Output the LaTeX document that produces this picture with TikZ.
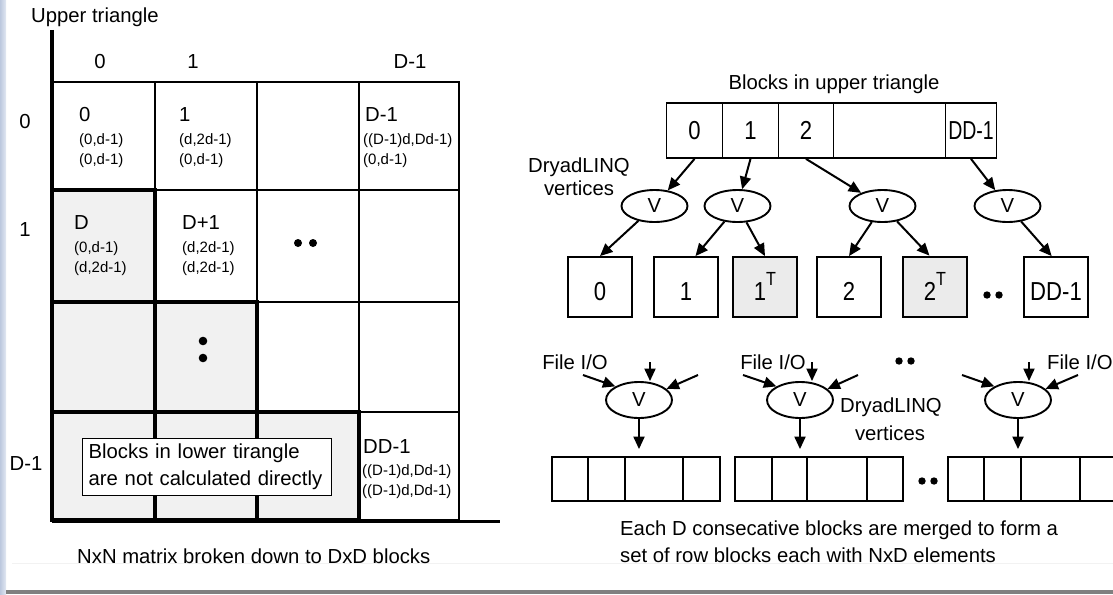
\documentclass[tikz,border=0pt]{standalone}
\usepackage{fontspec}
\setmainfont{Liberation Sans}
\usetikzlibrary{arrows.meta,shapes.geometric}
\definecolor{lowfill}{HTML}{F1F1F1}
\definecolor{tfill}{HTML}{EBEBEB}
\definecolor{stripL}{HTML}{BCC8DE}
\definecolor{stripR}{HTML}{E2E8F3}
\definecolor{bargray}{HTML}{808080}
\definecolor{faint}{HTML}{F2F2F2}
\newcommand{\sqz}[2]{\scalebox{#1}[1]{#2}}
\begin{document}
\begin{tikzpicture}[x=1pt,y=-1pt,
  big/.style={font=\fontsize{20.3}{27}\selectfont, inner sep=0pt},
  small/.style={font=\fontsize{15}{20}\selectfont, inner sep=0pt},
  lab/.style={font=\fontsize{26}{30}\selectfont, inner sep=0pt},
  upline/.style={line width=1.9pt},
  lowline/.style={line width=3.8pt},
  arr/.style={line width=2pt, -{Triangle[length=12.5pt,width=11pt]}},
  acell/.style={lab, draw, line width=1.8pt, minimum height=55pt},
  bbox/.style={lab, draw, line width=1.8pt, minimum width=64pt, minimum height=60pt, text height=26pt, text depth=0pt},
  vnode/.style={big, ellipse, draw, line width=1.9pt, minimum width=66pt, minimum height=32pt},
  rblock/.style={draw, line width=1.8pt, minimum width=168pt, minimum height=44pt, inner sep=0pt},
  divline/.style={line width=1.8pt}
]
\useasboundingbox (0,0) rectangle (1113,594);
\fill[white] (0,0) rectangle (1113,594);
% window edges
\shade[left color=stripL, right color=stripR] (0,0) rectangle (6,594);
\draw[faint, line width=1pt] (12,563) -- (1113,563);
\fill[bargray] (6,590) rectangle (1113,594);

% ---------------- left matrix ----------------
\fill[lowfill] (52,190) rectangle (155,302);
\fill[lowfill] (52,302) rectangle (257,412);
\fill[lowfill] (52,412) rectangle (359,520);
\draw[upline] (52,82) rectangle (459,190);
\draw[upline] (155,82) -- (155,190) (257,82) -- (257,412) (359,82) -- (359,520);
\draw[upline] (155,190) rectangle (459,302);
\draw[upline] (257,302) rectangle (459,412);
\draw[upline] (359,412) rectangle (459,520);
\draw[lowline] (52,190) rectangle (155,302);
\draw[lowline] (52,302) rectangle (155,412);
\draw[lowline] (155,302) rectangle (257,412);
\draw[lowline] (52,412) rectangle (155,520);
\draw[lowline] (155,412) rectangle (257,520);
\draw[lowline] (257,412) rectangle (359,520);
\draw[line width=3.3pt] (52,30) -- (52,521);
\draw[line width=3pt] (52,521) -- (500,521);
\draw[line width=2.7pt] (52,82) -- (459,82);

\node[big, anchor=base west] (ut) at (31,23) {Upper triangle};
\node[big, anchor=base] (col0) at (100,69) {0};
\node[big, anchor=base] (col1) at (193,69) {1};
\node[big, anchor=base] (colD) at (410,69) {D-1};
\node[big, anchor=base] (row0) at (25,128) {0};
\node[big, anchor=base] (row1) at (25,236) {1};
\node[big, anchor=base] (rowD) at (26,470) {D-1};

\node[big, anchor=base west] (a0) at (79,121) {0};
\node[small, anchor=base west] (a0b) at (79,144) {(0,d-1)};
\node[small, anchor=base west] (a0c) at (79,164) {(0,d-1)};
\node[big, anchor=base west] (a1) at (179,121) {1};
\node[small, anchor=base west] (a1b) at (179,144) {(d,2d-1)};
\node[small, anchor=base west] (a1c) at (179,164) {(0,d-1)};
\node[big, anchor=base west] (a3) at (365,121) {D-1};
\node[small, anchor=base west] (a3b) at (363,144) {((D-1)d,Dd-1)};
\node[small, anchor=base west] (a3c) at (363,164) {(0,d-1)};
\node[big, anchor=base west] (b0) at (74,229) {D};
\node[small, anchor=base west] (b0b) at (74,252) {(0,d-1)};
\node[small, anchor=base west] (b0c) at (74,272) {(d,2d-1)};
\node[big, anchor=base west] (b1) at (182,229) {D+1};
\node[small, anchor=base west] (b1b) at (182,252) {(d,2d-1)};
\node[small, anchor=base west] (b1c) at (182,272) {(d,2d-1)};
\node[big, anchor=base west] (d3) at (363,453) {DD-1};
\node[small, anchor=base west] (d3b) at (362,475) {((D-1)d,Dd-1)};
\node[small, anchor=base west] (d3c) at (362,495) {((D-1)d,Dd-1)};

\fill (298,243) circle (4pt) (313,243) circle (4pt);
\fill (203,341) circle (4.3pt) (203,358) circle (4.3pt);

\node[big, draw, fill=white, line width=1.3pt, anchor=north west, minimum height=57pt,
      text width=237pt, inner xsep=6pt, inner ysep=0pt, align=left] (lowbox) at (82,438)
      {Blocks in lower tirangle\\are not calculated directly};
\node[big, anchor=base west] (capL) at (77,563) {NxN matrix broken down to DxD blocks};

% ---------------- right: upper part ----------------
\node[big, anchor=base] (bup) at (834,89) {Blocks in upper triangle};
\node[acell, minimum width=56pt] (c0) at (694.5,130.5) {\sqz{0.85}{0}};
\node[acell, minimum width=56pt] (c1) at (750.5,130.5) {\sqz{0.85}{1}};
\node[acell, minimum width=55pt] (c2) at (806,130.5) {\sqz{0.85}{2}};
\node[acell, minimum width=112pt] (c3) at (889.5,130.5) {};
\node[acell, minimum width=51pt] (cD) at (971,130.5) {\sqz{0.75}{DD-1}};

\node[big, anchor=base] (dl1) at (579,172) {DryadLINQ};
\node[big, anchor=base] (dl2) at (579,195) {vertices};

\node[vnode] (E1) at (654.5,206) {V};
\node[vnode] (E2) at (737.5,206) {V};
\node[vnode] (E3) at (882.5,206) {V};
\node[vnode] (E4) at (1007.5,206) {V};

\node[bbox] (k0) at (600,287) {\sqz{0.85}{0}};
\node[bbox] (k1) at (686,287) {\sqz{0.85}{1}};
\node[bbox, fill=tfill] (k1T) at (765,287) {\sqz{0.85}{1\raisebox{15pt}{\fontsize{19}{19}\selectfont T}}};
\node[bbox] (k2) at (849,287) {\sqz{0.85}{2}};
\node[bbox, fill=tfill, line width=2.8pt] (k2T) at (935,287) {\sqz{0.85}{2\raisebox{15pt}{\fontsize{19}{19}\selectfont T}}};
\node[bbox] (kD) at (1056,287) {\sqz{0.85}{DD-1}};
\fill (987,295) circle (3.7pt) (999,295) circle (3.7pt);

\draw[arr] (c0.south) -- (E1);
\draw[arr] (c1.south) -- (E2);
\draw[arr] (c2.south) -- (E3);
\draw[arr] (cD.south) -- (E4);
\draw[arr] (E1) -- (k0.north);
\draw[arr] (E2) -- (k1.73);
\draw[arr] (E2) -- (k1T.north);
\draw[arr] (E3) -- (k2.north);
\draw[arr] (E3) -- (k2T.100);
\draw[arr] (E4) -- (kD.98);

% ---------------- right: lower part ----------------
\node[big, anchor=base] (f1) at (575,369) {File I/O};
\node[big, anchor=base] (f2) at (773,369) {File I/O};
\node[big, anchor=base west] (f3) at (1047,369) {File I/O};
\fill (899,361) circle (3.7pt) (911,361) circle (3.7pt);
\node[big, anchor=base] (dl3) at (891,412) {DryadLINQ};
\node[big, anchor=base] (dl4) at (890,440) {vertices};

\node[vnode, minimum height=36pt] (E5) at (639,400) {V};
\node[vnode, minimum height=36pt] (E6) at (800,400) {V};
\node[vnode, minimum height=36pt] (E7) at (1018,400) {V};

\coordinate (l5) at (583,375); \coordinate (t5) at (650,362); \coordinate (r5) at (698,375);
\coordinate (l6) at (743,375); \coordinate (t6) at (812,362); \coordinate (r6) at (858,375);
\coordinate (l7) at (962,375); \coordinate (t7) at (1029,362); \coordinate (r7) at (1078,375);

\draw[arr] (l5) -- (E5.150);
\draw[arr] (t5) -- (t5 |- E5.north);
\draw[arr] (r5) -- (E5.22);
\draw[arr] (l6) -- (E6.150);
\draw[arr] (t6) -- (t6 |- E6.north);
\draw[arr] (r6) -- (E6.22);
\draw[arr] (l7) -- (E7.150);
\draw[arr] (t7) -- (t7 |- E7.north);
\draw[arr] (r7) -- (E7.22);

\node[rblock] (rb1) at (636,479) {};
\node[rblock] (rb2) at (819,479) {};
\node[rblock] (rb3) at (1032,479) {};
\foreach \b/\p/\q/\r in {rb1/37/74/132, rb2/38/73/133, rb3/37/74/133}{
  \draw[divline] ([xshift=\p pt]\b.north west) -- ([xshift=\p pt]\b.south west);
  \draw[divline] ([xshift=\q pt]\b.north west) -- ([xshift=\q pt]\b.south west);
  \draw[divline] ([xshift=\r pt]\b.north west) -- ([xshift=\r pt]\b.south west);
}
\fill (922,481) circle (3.7pt) (934,481) circle (3.7pt);

\draw[arr, shorten >=7pt] (E5.south) -- (E5.south |- rb1.north);
\draw[arr, shorten >=7pt] (E6.south) -- (E6.south |- rb2.north);
\draw[arr, shorten >=7pt] (E7.south) -- (E7.south |- rb3.north);

\node[big, anchor=base west] (capR1) at (620,535) {Each D consecative blocks are merged to form a};
\node[big, anchor=base west] (capR2) at (620,562) {set of row blocks each with NxD elements};
\end{tikzpicture}
\end{document}
